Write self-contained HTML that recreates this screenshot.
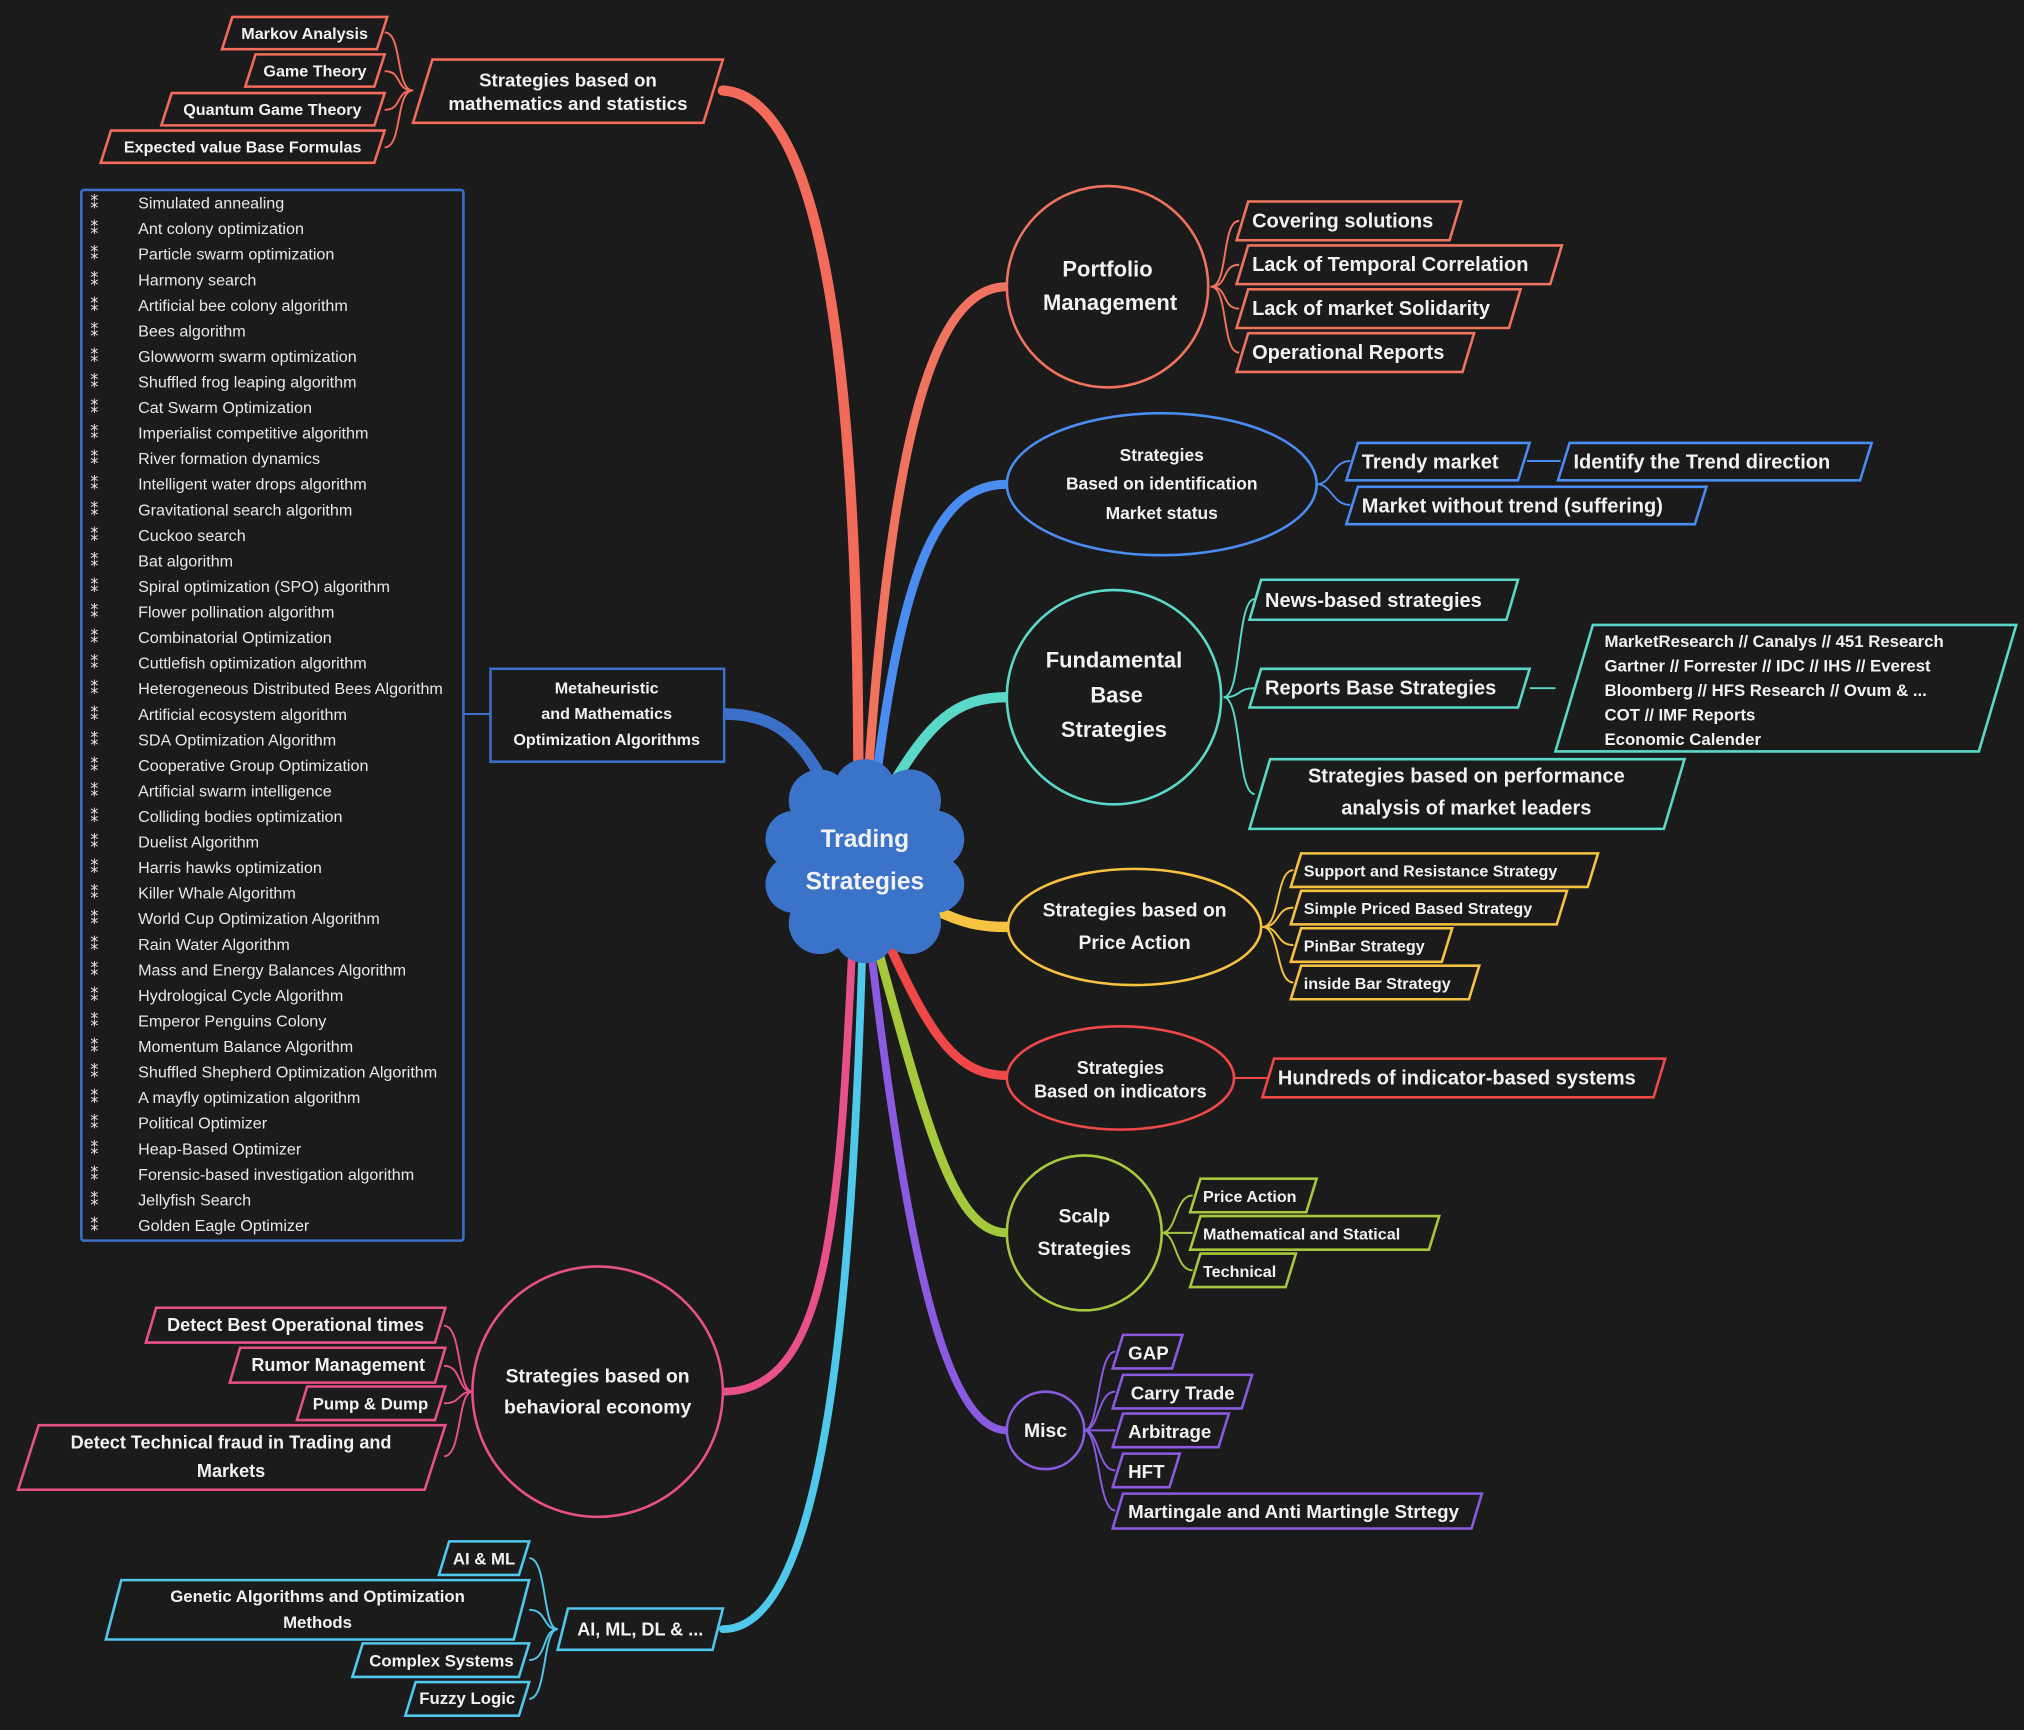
<!DOCTYPE html>
<html><head><meta charset="utf-8"><style>
html,body{margin:0;padding:0;background:#1b1b1b;}
svg{display:block}
text{font-family:"Liberation Sans",sans-serif;fill:#f2f2f2;font-weight:bold}
.l text{font-weight:normal;font-size:12.5px;fill:#e8e8e8}
</style></head><body>
<svg width="2024" height="1730" viewBox="0 0 1568 1340" xmlns="http://www.w3.org/2000/svg">
<rect width="1568" height="1340" fill="#1b1b1b"/>
<g fill="none" stroke-linecap="round">
<path d="M665,610 C665,300 640,75 560,70" stroke="#f26b5b" stroke-width="8"/>
<path d="M672,610 C690,350 720,222 780,222" stroke="#f0735f" stroke-width="7"/>
<path d="M678,610 C700,430 730,375 780,375" stroke="#4a8cf0" stroke-width="7"/>
<path d="M690,610 C720,560 740,540 780,540" stroke="#5ad8c8" stroke-width="8"/>
<path d="M725,705 C745,715 760,718 780,718" stroke="#f5c242" stroke-width="8"/>
<path d="M688,730 C720,800 740,833 780,833" stroke="#f04848" stroke-width="7"/>
<path d="M680,735 C720,880 740,955 780,955" stroke="#a6c83c" stroke-width="7"/>
<path d="M675,738 C700,950 730,1108 780,1108" stroke="#8a5ae0" stroke-width="6"/>
<path d="M660,738 C650,950 640,1078 560,1078" stroke="#e8508a" stroke-width="6"/>
<path d="M668,738 C660,1000 640,1262 560,1262" stroke="#50c8ec" stroke-width="6"/>
<path d="M640,610 C620,570 600,553 560,553" stroke="#3a70c8" stroke-width="9"/>
</g>
<!-- center cloud -->
<g fill="#3b73c8">
<circle cx="670" cy="665" r="58"/>
<circle cx="670" cy="612" r="24"/><circle cx="705" cy="620" r="24"/><circle cx="635" cy="620" r="24"/>
<circle cx="725" cy="650" r="22"/><circle cx="615" cy="650" r="22"/>
<circle cx="725" cy="685" r="22"/><circle cx="615" cy="685" r="22"/>
<circle cx="705" cy="715" r="24"/><circle cx="635" cy="715" r="24"/><circle cx="670" cy="722" r="24"/>
</g>
<text x="670" y="656" text-anchor="middle" font-size="19">Trading</text>
<text x="670" y="689" text-anchor="middle" font-size="19">Strategies</text>

<!-- math -->
<g fill="#1b1b1b" stroke="#f26b5b" stroke-width="2">
<polygon points="335,46 560,46 545,95 320,95"/>
<polygon points="180,13 300,13 292,38 172,38"/>
<polygon points="198,42 298,42 290,67 190,67"/>
<polygon points="133,72 298,72 290,97 125,97"/>
<polygon points="86,101 298,101 290,126 78,126"/>
</g>
<g fill="none" stroke="#f26b5b" stroke-width="1.5">
<path d="M320,70 C306,70 312,25 298,25"/><path d="M320,70 C306,70 312,55 298,55"/><path d="M320,70 C306,70 312,85 298,85"/><path d="M320,70 C306,70 312,114 298,114"/>
</g>
<text x="440" y="67" text-anchor="middle" font-size="14.5">Strategies based on</text>
<text x="440" y="85" text-anchor="middle" font-size="14.5">mathematics and statistics</text>
<text x="236" y="30" text-anchor="middle" font-size="12.5">Markov Analysis</text>
<text x="244" y="59" text-anchor="middle" font-size="12.5">Game Theory</text>
<text x="211" y="89" text-anchor="middle" font-size="12.5">Quantum Game Theory</text>
<text x="188" y="118" text-anchor="middle" font-size="12.5">Expected value Base Formulas</text>

<!-- portfolio -->
<circle cx="858" cy="222" r="78" fill="#1b1b1b" stroke="#f0735f" stroke-width="2"/>
<text x="858" y="214" text-anchor="middle" font-size="17">Portfolio</text>
<text x="860" y="240" text-anchor="middle" font-size="17">Management</text>
<g fill="#1b1b1b" stroke="#f0735f" stroke-width="2">
<polygon points="967,156 1132,156 1123,186 958,186"/>
<polygon points="967,190 1210,190 1201,220 958,220"/>
<polygon points="967,224 1178,224 1169,254 958,254"/>
<polygon points="967,258 1142,258 1133,288 958,288"/>
</g>
<g fill="none" stroke="#f0735f" stroke-width="1.5">
<path d="M938,222 C952,222 946,171 960,171"/><path d="M938,222 C952,222 946,205 960,205"/><path d="M938,222 C952,222 946,239 960,239"/><path d="M938,222 C952,222 946,273 960,273"/>
</g>
<text x="970" y="176" font-size="15.5">Covering solutions</text>
<text x="970" y="210" font-size="15.5">Lack of Temporal Correlation</text>
<text x="970" y="244" font-size="15.5">Lack of market Solidarity</text>
<text x="970" y="278" font-size="15.5">Operational Reports</text>

<!-- identification -->
<ellipse cx="900" cy="375" rx="120" ry="55" fill="#1b1b1b" stroke="#4a8cf0" stroke-width="2"/>
<text x="900" y="357" text-anchor="middle" font-size="13.5">Strategies</text>
<text x="900" y="379" text-anchor="middle" font-size="13.5">Based on identification</text>
<text x="900" y="402" text-anchor="middle" font-size="13.5">Market status</text>
<g fill="#1b1b1b" stroke="#4a8cf0" stroke-width="2">
<polygon points="1052,343 1185,343 1176,372 1043,372"/>
<polygon points="1216,343 1450,343 1441,372 1207,372"/>
<polygon points="1052,377 1322,377 1313,406 1043,406"/>
</g>
<g fill="none" stroke="#4a8cf0" stroke-width="1.5">
<path d="M1020,375 C1032,375 1032,357 1046,357"/><path d="M1020,375 C1032,375 1032,391 1046,391"/><path d="M1183,357 L1209,357"/>
</g>
<text x="1055" y="363" font-size="15.5">Trendy market</text>
<text x="1219" y="363" font-size="15.5">Identify the Trend direction</text>
<text x="1055" y="397" font-size="15.5">Market without trend (suffering)</text>

<!-- fundamental -->
<circle cx="863" cy="540" r="83" fill="#1b1b1b" stroke="#5ad8c8" stroke-width="2"/>
<text x="863" y="517" text-anchor="middle" font-size="17">Fundamental</text>
<text x="865" y="544" text-anchor="middle" font-size="17">Base</text>
<text x="863" y="571" text-anchor="middle" font-size="17">Strategies</text>
<g fill="#1b1b1b" stroke="#5ad8c8" stroke-width="2">
<polygon points="977,449 1176,449 1167,480 968,480"/>
<polygon points="977,518 1185,518 1176,548 968,548"/>
<polygon points="984,588 1305,588 1289,642 968,642"/>
<polygon points="1234,484 1562,484 1533,582 1205,582"/>
</g>
<g fill="none" stroke="#5ad8c8" stroke-width="1.5">
<path d="M948,540 C962,540 958,464 972,464"/><path d="M948,540 C962,540 958,533 972,533"/><path d="M948,540 C962,540 958,615 972,615"/><path d="M1185,533 L1205,533"/>
</g>
<text x="980" y="470" font-size="15.5">News-based strategies</text>
<text x="980" y="538" font-size="15.5">Reports Base Strategies</text>
<text x="1136" y="606" text-anchor="middle" font-size="15.5">Strategies based on performance</text>
<text x="1136" y="631" text-anchor="middle" font-size="15.5">analysis of market leaders</text>
<text x="1243" y="501" font-size="13">MarketResearch // Canalys // 451 Research</text>
<text x="1243" y="520" font-size="13">Gartner // Forrester // IDC // IHS // Everest</text>
<text x="1243" y="539" font-size="13">Bloomberg // HFS Research // Ovum &amp; ...</text>
<text x="1243" y="558" font-size="13">COT // IMF Reports</text>
<text x="1243" y="577" font-size="13">Economic Calender</text>

<!-- price action -->
<ellipse cx="879" cy="718" rx="98" ry="45" fill="#1b1b1b" stroke="#f5c242" stroke-width="2"/>
<text x="879" y="710" text-anchor="middle" font-size="15">Strategies based on</text>
<text x="879" y="735" text-anchor="middle" font-size="15">Price Action</text>
<g fill="#1b1b1b" stroke="#f5c242" stroke-width="2">
<polygon points="1008,661 1238,661 1230,687 1000,687"/>
<polygon points="1008,690 1214,690 1206,716 1000,716"/>
<polygon points="1008,719 1125,719 1117,745 1000,745"/>
<polygon points="1008,748 1146,748 1138,774 1000,774"/>
</g>
<g fill="none" stroke="#f5c242" stroke-width="1.5">
<path d="M978,718 C992,718 988,674 1002,674"/><path d="M978,718 C992,718 988,703 1002,703"/><path d="M978,718 C992,718 988,732 1002,732"/><path d="M978,718 C992,718 988,761 1002,761"/>
</g>
<text x="1010" y="679" font-size="12.5">Support and Resistance Strategy</text>
<text x="1010" y="708" font-size="12.5">Simple Priced Based Strategy</text>
<text x="1010" y="737" font-size="12.5">PinBar Strategy</text>
<text x="1010" y="766" font-size="12.5">inside Bar Strategy</text>

<!-- indicators -->
<ellipse cx="868" cy="835" rx="88" ry="40" fill="#1b1b1b" stroke="#f04848" stroke-width="2"/>
<text x="868" y="832" text-anchor="middle" font-size="14">Strategies</text>
<text x="868" y="850" text-anchor="middle" font-size="14">Based on indicators</text>
<polygon points="987,820 1290,820 1281,850 978,850" fill="#1b1b1b" stroke="#f04848" stroke-width="2"/>
<path d="M956,835 L982,835" stroke="#f04848" stroke-width="1.5"/>
<text x="990" y="840" font-size="15.5">Hundreds of indicator-based systems</text>

<!-- scalp -->
<circle cx="840" cy="955" r="60" fill="#1b1b1b" stroke="#a6c83c" stroke-width="2"/>
<text x="840" y="947" text-anchor="middle" font-size="15">Scalp</text>
<text x="840" y="972" text-anchor="middle" font-size="15">Strategies</text>
<g fill="#1b1b1b" stroke="#a6c83c" stroke-width="2">
<polygon points="930,913 1020,913 1012,939 922,939"/>
<polygon points="930,942 1115,942 1107,968 922,968"/>
<polygon points="930,971 1004,971 996,997 922,997"/>
</g>
<g fill="none" stroke="#a6c83c" stroke-width="1.5">
<path d="M900,955 C912,955 910,926 924,926"/><path d="M900,955 L924,955"/><path d="M900,955 C912,955 910,984 924,984"/>
</g>
<text x="932" y="931" font-size="12.5">Price Action</text>
<text x="932" y="960" font-size="12.5">Mathematical and Statical</text>
<text x="932" y="989" font-size="12.5">Technical</text>

<!-- misc -->
<circle cx="810" cy="1108" r="30" fill="#1b1b1b" stroke="#8a5ae0" stroke-width="2"/>
<text x="810" y="1113" text-anchor="middle" font-size="15">Misc</text>
<g fill="#1b1b1b" stroke="#8a5ae0" stroke-width="2">
<polygon points="870,1034 916,1034 908,1060 862,1060"/>
<polygon points="870,1065 970,1065 962,1091 862,1091"/>
<polygon points="870,1095 952,1095 944,1121 862,1121"/>
<polygon points="870,1126 914,1126 906,1152 862,1152"/>
<polygon points="870,1157 1148,1157 1140,1184 862,1184"/>
</g>
<g fill="none" stroke="#8a5ae0" stroke-width="1.5">
<path d="M840,1108 C852,1108 850,1047 864,1047"/><path d="M840,1108 C852,1108 850,1078 864,1078"/><path d="M840,1108 L864,1108"/><path d="M840,1108 C852,1108 850,1139 864,1139"/><path d="M840,1108 C852,1108 850,1170 864,1170"/>
</g>
<text x="874" y="1053" font-size="14.5">GAP</text>
<text x="876" y="1084" font-size="14.5">Carry Trade</text>
<text x="874" y="1114" font-size="14.5">Arbitrage</text>
<text x="874" y="1145" font-size="14.5">HFT</text>
<text x="874" y="1176" font-size="14.5">Martingale and Anti Martingle Strtegy</text>

<!-- behavioral -->
<circle cx="463" cy="1078" r="97" fill="#1b1b1b" stroke="#e8508a" stroke-width="2"/>
<text x="463" y="1071" text-anchor="middle" font-size="15">Strategies based on</text>
<text x="463" y="1095" text-anchor="middle" font-size="15">behavioral economy</text>
<g fill="#1b1b1b" stroke="#e8508a" stroke-width="2">
<polygon points="121,1013 345,1013 337,1040 113,1040"/>
<polygon points="186,1044 345,1044 337,1071 178,1071"/>
<polygon points="238,1074 345,1074 337,1100 230,1100"/>
<polygon points="30,1104 345,1104 329,1154 14,1154"/>
</g>
<g fill="none" stroke="#e8508a" stroke-width="1.5">
<path d="M366,1078 C354,1078 358,1027 344,1027"/><path d="M366,1078 C354,1078 358,1058 344,1058"/><path d="M366,1078 C354,1078 358,1087 344,1087"/><path d="M366,1078 C354,1078 358,1128 344,1128"/>
</g>
<text x="229" y="1031" text-anchor="middle" font-size="14">Detect Best Operational times</text>
<text x="262" y="1062" text-anchor="middle" font-size="14">Rumor Management</text>
<text x="287" y="1092" text-anchor="middle" font-size="13">Pump &amp; Dump</text>
<text x="179" y="1122" text-anchor="middle" font-size="14">Detect Technical fraud in Trading and</text>
<text x="179" y="1144" text-anchor="middle" font-size="14">Markets</text>

<!-- AI -->
<g fill="#1b1b1b" stroke="#50c8ec" stroke-width="2">
<polygon points="440,1246 560,1246 552,1278 432,1278"/>
<polygon points="348,1194 410,1194 402,1220 340,1220"/>
<polygon points="94,1224 410,1224 398,1270 82,1270"/>
<polygon points="281,1273 410,1273 402,1299 273,1299"/>
<polygon points="322,1303 410,1303 402,1329 314,1329"/>
</g>
<g fill="none" stroke="#50c8ec" stroke-width="1.5">
<path d="M432,1262 C420,1262 424,1207 410,1207"/><path d="M432,1262 C420,1262 424,1247 410,1247"/><path d="M432,1262 C420,1262 424,1286 410,1286"/><path d="M432,1262 C420,1262 424,1316 410,1316"/>
</g>
<text x="496" y="1267" text-anchor="middle" font-size="14">AI, ML, DL &amp; ...</text>
<text x="375" y="1212" text-anchor="middle" font-size="13">AI &amp; ML</text>
<text x="246" y="1241" text-anchor="middle" font-size="13">Genetic Algorithms and Optimization</text>
<text x="246" y="1261" text-anchor="middle" font-size="13">Methods</text>
<text x="342" y="1291" text-anchor="middle" font-size="13">Complex Systems</text>
<text x="362" y="1320" text-anchor="middle" font-size="13">Fuzzy Logic</text>

<!-- metaheuristic -->
<rect x="380" y="518" width="181" height="72" fill="#1b1b1b" stroke="#3a70c8" stroke-width="2"/>
<text x="470" y="537" text-anchor="middle" font-size="12.5">Metaheuristic</text>
<text x="470" y="557" text-anchor="middle" font-size="12.5">and Mathematics</text>
<text x="470" y="577" text-anchor="middle" font-size="12.5">Optimization  Algorithms</text>
<path d="M359,553 L380,553" stroke="#3a70c8" stroke-width="1.5"/>
<rect x="63" y="147" width="296" height="814" fill="#1b1b1b" stroke="#3a70c8" stroke-width="2" rx="2"/>
<g class="l">
<text x="70" y="161.5">⁑</text><text x="107" y="161.5">Simulated annealing</text>
<text x="70" y="181.3">⁑</text><text x="107" y="181.3">Ant colony optimization</text>
<text x="70" y="201.1">⁑</text><text x="107" y="201.1">Particle swarm optimization</text>
<text x="70" y="220.9">⁑</text><text x="107" y="220.9">Harmony search</text>
<text x="70" y="240.7">⁑</text><text x="107" y="240.7">Artificial bee colony algorithm</text>
<text x="70" y="260.5">⁑</text><text x="107" y="260.5">Bees algorithm</text>
<text x="70" y="280.3">⁑</text><text x="107" y="280.3">Glowworm swarm optimization</text>
<text x="70" y="300.1">⁑</text><text x="107" y="300.1">Shuffled frog leaping algorithm</text>
<text x="70" y="319.9">⁑</text><text x="107" y="319.9">Cat Swarm Optimization</text>
<text x="70" y="339.7">⁑</text><text x="107" y="339.7">Imperialist competitive algorithm</text>
<text x="70" y="359.5">⁑</text><text x="107" y="359.5">River formation dynamics</text>
<text x="70" y="379.3">⁑</text><text x="107" y="379.3">Intelligent water drops algorithm</text>
<text x="70" y="399.1">⁑</text><text x="107" y="399.1">Gravitational search algorithm</text>
<text x="70" y="418.9">⁑</text><text x="107" y="418.9">Cuckoo search</text>
<text x="70" y="438.7">⁑</text><text x="107" y="438.7">Bat algorithm</text>
<text x="70" y="458.5">⁑</text><text x="107" y="458.5">Spiral optimization (SPO) algorithm</text>
<text x="70" y="478.3">⁑</text><text x="107" y="478.3">Flower pollination algorithm</text>
<text x="70" y="498.1">⁑</text><text x="107" y="498.1">Combinatorial Optimization</text>
<text x="70" y="517.9">⁑</text><text x="107" y="517.9">Cuttlefish optimization algorithm</text>
<text x="70" y="537.7">⁑</text><text x="107" y="537.7">Heterogeneous Distributed Bees Algorithm</text>
<text x="70" y="557.5">⁑</text><text x="107" y="557.5">Artificial ecosystem algorithm</text>
<text x="70" y="577.3">⁑</text><text x="107" y="577.3">SDA Optimization Algorithm</text>
<text x="70" y="597.1">⁑</text><text x="107" y="597.1">Cooperative Group Optimization</text>
<text x="70" y="616.9">⁑</text><text x="107" y="616.9">Artificial swarm intelligence</text>
<text x="70" y="636.7">⁑</text><text x="107" y="636.7">Colliding bodies optimization</text>
<text x="70" y="656.5">⁑</text><text x="107" y="656.5">Duelist Algorithm</text>
<text x="70" y="676.3">⁑</text><text x="107" y="676.3">Harris hawks optimization</text>
<text x="70" y="696.1">⁑</text><text x="107" y="696.1">Killer Whale Algorithm</text>
<text x="70" y="715.9">⁑</text><text x="107" y="715.9">World Cup Optimization Algorithm</text>
<text x="70" y="735.7">⁑</text><text x="107" y="735.7">Rain Water Algorithm</text>
<text x="70" y="755.5">⁑</text><text x="107" y="755.5">Mass and Energy Balances Algorithm</text>
<text x="70" y="775.3">⁑</text><text x="107" y="775.3">Hydrological Cycle Algorithm</text>
<text x="70" y="795.1">⁑</text><text x="107" y="795.1">Emperor Penguins Colony</text>
<text x="70" y="814.9">⁑</text><text x="107" y="814.9">Momentum Balance Algorithm</text>
<text x="70" y="834.7">⁑</text><text x="107" y="834.7">Shuffled Shepherd Optimization Algorithm</text>
<text x="70" y="854.5">⁑</text><text x="107" y="854.5">A mayfly optimization algorithm</text>
<text x="70" y="874.3">⁑</text><text x="107" y="874.3">Political Optimizer</text>
<text x="70" y="894.1">⁑</text><text x="107" y="894.1">Heap-Based Optimizer</text>
<text x="70" y="913.9">⁑</text><text x="107" y="913.9">Forensic-based investigation algorithm</text>
<text x="70" y="933.7">⁑</text><text x="107" y="933.7">Jellyfish Search</text>
<text x="70" y="953.5">⁑</text><text x="107" y="953.5">Golden Eagle Optimizer</text>
</g>
</svg>
</body></html>
